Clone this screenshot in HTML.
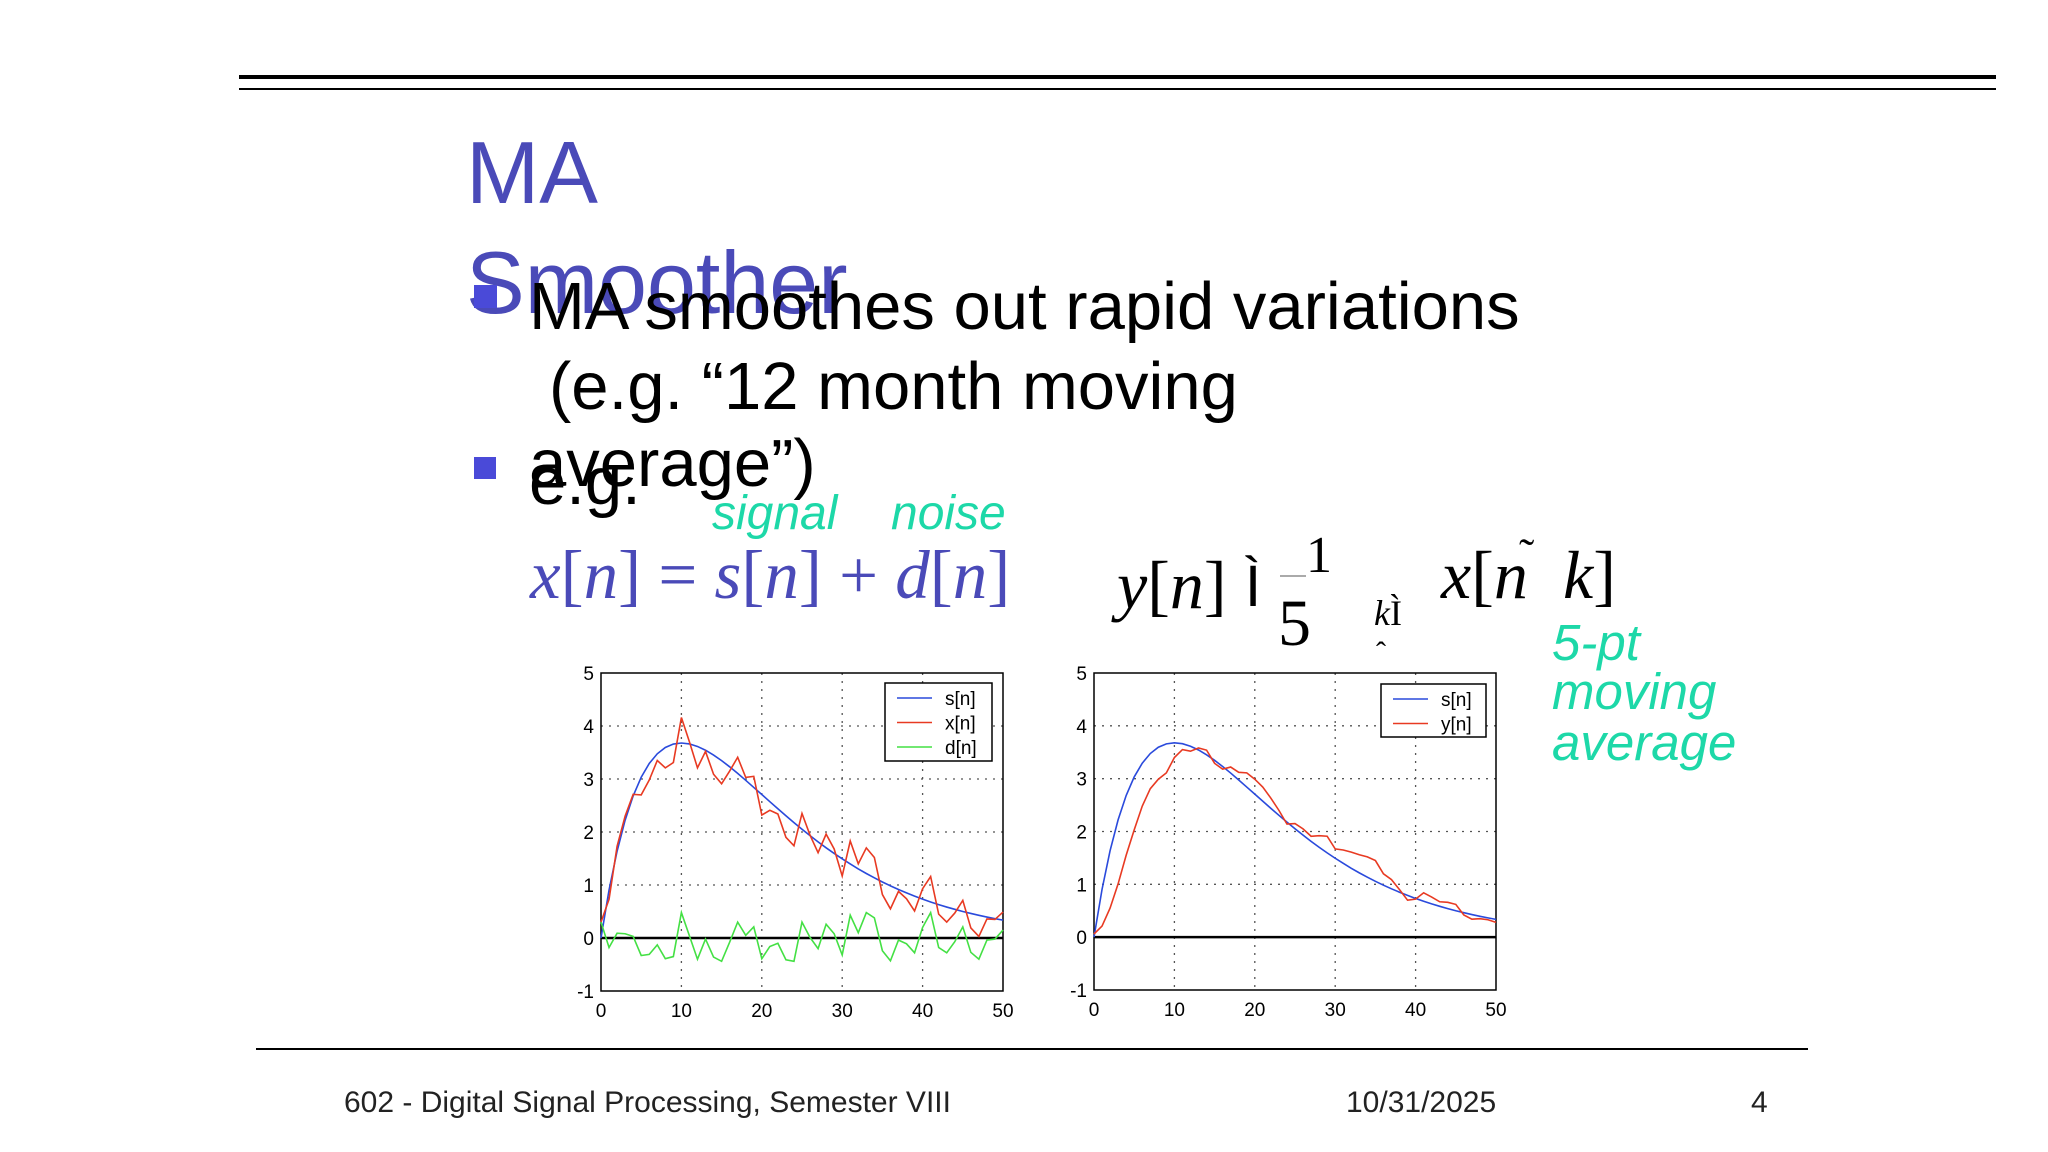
<!DOCTYPE html>
<html><head><meta charset="utf-8">
<style>
html,body{margin:0;padding:0;background:#fff;}
svg{display:block;}
text{font-family:"Liberation Sans",sans-serif;}
.serif{font-family:"Liberation Serif",serif;}
</style></head>
<body>
<svg id="page" width="2048" height="1152" viewBox="0 0 2048 1152" xmlns="http://www.w3.org/2000/svg">
<line x1="239" y1="77" x2="1996" y2="77" stroke="#000" stroke-width="4"/>
<line x1="239" y1="89" x2="1996" y2="89" stroke="#000" stroke-width="2"/>
<text x="466" y="203" font-size="88" fill="#4a4ab8">MA</text>
<text x="466" y="313" font-size="88" fill="#4a4ab8">Smoother</text>
<rect x="474" y="285" width="23" height="23" fill="#4a4ad8"/>
<text x="529" y="329" font-size="67" fill="#000">MA smoothes out rapid variations</text>
<text x="549" y="409" font-size="67" fill="#000">(e.g. “12 month moving</text>
<text x="529" y="486" font-size="67" fill="#000">average”)</text>
<rect x="474" y="457" width="22" height="22" fill="#4a4ad8"/>
<text x="529" y="504" font-size="67" fill="#000">e.g.</text>
<text x="712" y="529" font-size="48" font-style="italic" fill="#1dd8a8">signal</text>
<text x="891" y="529" font-size="48" font-style="italic" fill="#1dd8a8">noise</text>
<text class="serif" x="530" y="598" font-size="69" fill="#4a4ab8"><tspan font-style="italic">x</tspan>[<tspan font-style="italic">n</tspan>] = <tspan font-style="italic">s</tspan>[<tspan font-style="italic">n</tspan>] + <tspan font-style="italic">d</tspan>[<tspan font-style="italic">n</tspan>]</text>
<g fill="#000">
<text class="serif" x="1117" y="608" font-size="68"><tspan font-style="italic">y</tspan>[<tspan font-style="italic">n</tspan>]</text>
<text x="1245" y="606" font-size="58">Ì</text>
<text class="serif" x="1306" y="572" font-size="52">1</text>
<line x1="1280" y1="576" x2="1306" y2="576" stroke="#aaa" stroke-width="2"/>
<text class="serif" x="1278" y="645" font-size="66">5</text>
<text class="serif" x="1374" y="625" font-size="36"><tspan font-style="italic">k</tspan>Ì</text>
<text class="serif" x="1376" y="662" font-size="30">ˆ</text>
<text class="serif" x="1441" y="598" font-size="68"><tspan font-style="italic">x</tspan>[<tspan font-style="italic">n</tspan></text>
<text class="serif" x="1519" y="570" font-size="46">˜</text>
<text class="serif" x="1563" y="598" font-size="68"><tspan font-style="italic">k</tspan>]</text>
</g>
<text x="1552" y="660" font-size="51" font-style="italic" fill="#1dd8a8">5-pt</text>
<text x="1552" y="709" font-size="51" font-style="italic" fill="#1dd8a8">moving</text>
<text x="1552" y="760" font-size="51" font-style="italic" fill="#1dd8a8">average</text>
<g id="chartL"></g>
<g id="chartR"></g>
<line x1="256" y1="1049" x2="1808" y2="1049" stroke="#000" stroke-width="2"/>
<text x="344" y="1112" font-size="30" fill="#222">602 - Digital Signal Processing, Semester VIII</text>
<text x="1346" y="1112" font-size="30" fill="#222">10/31/2025</text>
<text x="1751" y="1112" font-size="30" fill="#222">4</text>
</svg>
<script>
const xTicks = [0,10,20,30,40,50];
const yTicks = [-1,0,1,2,3,4,5];
const sVals = [0,0.905,1.637,2.222,2.681,3.033,3.293,3.476,3.595,3.659,3.679,3.662,3.614,3.543,3.452,3.347,3.230,3.106,2.975,2.841,2.707,2.572,2.438,2.306,2.177,2.052,1.931,1.814,1.702,1.595,1.494,1.397,1.304,1.217,1.135,1.057,0.984,0.915,0.851,0.790,0.733,0.680,0.630,0.584,0.541,0.500,0.463,0.428,0.395,0.365,0.337];
const dVals = [0.30,-0.18,0.09,0.08,0.03,-0.33,-0.31,-0.13,-0.39,-0.35,0.48,0.04,-0.40,-0.02,-0.36,-0.44,-0.08,0.30,0.05,0.21,-0.39,-0.16,-0.10,-0.41,-0.44,0.30,0.01,-0.20,0.26,0.08,-0.32,0.43,0.10,0.48,0.38,-0.24,-0.43,-0.04,-0.11,-0.28,0.20,0.48,-0.18,-0.28,-0.07,0.21,-0.27,-0.40,-0.04,-0.02,0.15];
const xVals = [0.30,0.73,1.73,2.30,2.71,2.70,2.98,3.35,3.21,3.31,4.16,3.70,3.21,3.52,3.09,2.91,3.15,3.41,3.03,3.05,2.32,2.41,2.34,1.90,1.74,2.35,1.94,1.61,1.96,1.68,1.17,1.83,1.40,1.70,1.52,0.82,0.55,0.88,0.74,0.51,0.93,1.16,0.45,0.30,0.47,0.71,0.19,0.03,0.36,0.35,0.49];
const yVals = [0.06,0.21,0.55,1.01,1.55,2.03,2.48,2.81,2.99,3.11,3.40,3.55,3.52,3.58,3.54,3.29,3.18,3.22,3.12,3.11,2.99,2.84,2.63,2.40,2.14,2.15,2.05,1.91,1.92,1.91,1.67,1.65,1.61,1.56,1.52,1.45,1.20,1.09,0.90,0.70,0.72,0.84,0.76,0.67,0.66,0.62,0.42,0.34,0.35,0.33,0.28];
const leftSeries = ['s[n]','x[n]','d[n]'];
const rightSeries = ['s[n]','y[n]'];

const NS='http://www.w3.org/2000/svg';
function mk(tag, attrs, parent){const e=document.createElementNS(NS,tag);for(const k in attrs)e.setAttribute(k,attrs[k]);parent.appendChild(e);return e;}

function drawChart(g, box, series, legendBox){
  const sx=v=>box.x0+(v-0)/(50-0)*(box.x1-box.x0);
  const sy=v=>box.y1-(v-(-1))/(5-(-1))*(box.y1-box.y0);
  for(const t of xTicks){
    if(t>0&&t<50){const l=mk('line',{x1:sx(t),x2:sx(t),y1:box.y0,y2:box.y1,stroke:'#555','stroke-width':1.3,'stroke-dasharray':'2 6'},g);
    
    }
    const tx=mk('text',{x:sx(t),y:box.y1+26,'font-size':19,'text-anchor':'middle',fill:'#000'},g);tx.textContent=t;
    
    
  }
  for(const t of yTicks){
    if(t>-1&&t<5&&t!==0){const l=mk('line',{x1:box.x0,x2:box.x1,y1:sy(t),y2:sy(t),stroke:'#555','stroke-width':1.3,'stroke-dasharray':'2 6'},g);
    
    }
    const tx=mk('text',{x:box.x0-7,y:sy(t)+7,'font-size':19,'text-anchor':'end',fill:'#000'},g);tx.textContent=t;
    
    
  }
  const fr=mk('rect',{x:box.x0,y:box.y0,width:box.x1-box.x0,height:box.y1-box.y0,fill:'none',stroke:'#000','stroke-width':1.5},g);
  
  
  const zl=mk('line',{x1:box.x0,x2:box.x1,y1:sy(0),y2:sy(0),stroke:'#000','stroke-width':2.5},g);
  
  
  for(const s of series){
    const p=mk('polyline',{points:s.vals.map((v,i)=>sx(i)+','+sy(v)).join(' '),fill:'none',stroke:s.color,'stroke-width':1.6},g);
    
    
  }
  const lb=mk('rect',{x:legendBox.x,y:legendBox.y,width:legendBox.w,height:legendBox.h,fill:'#fff',stroke:'#000','stroke-width':1.5},g);
  
  
  series.forEach((s,i)=>{
    const yy=legendBox.y+15+i*24.5;
    const l=mk('line',{x1:legendBox.x+12,x2:legendBox.x+47,y1:yy,y2:yy,stroke:s.color,'stroke-width':1.6},g);
    
    
    const t=mk('text',{x:legendBox.x+60,y:yy+7,'font-size':19,fill:'#000'},g);t.textContent=s.name;
    
    
  });
}
drawChart(document.getElementById('chartL'),{x0:601,x1:1003,y0:673,y1:991},
  [{name:leftSeries[0],vals:sVals,color:'#2a4adc'},{name:leftSeries[1],vals:xVals,color:'#e83a22'},{name:leftSeries[2],vals:dVals,color:'#44e044'}],
  {x:885,y:683,w:107,h:78});
drawChart(document.getElementById('chartR'),{x0:1094,x1:1496,y0:673,y1:990},
  [{name:rightSeries[0],vals:sVals,color:'#2a4adc'},{name:rightSeries[1],vals:yVals,color:'#e83a22'}],
  {x:1381,y:684,w:105,h:53});
</script>
</body></html>
